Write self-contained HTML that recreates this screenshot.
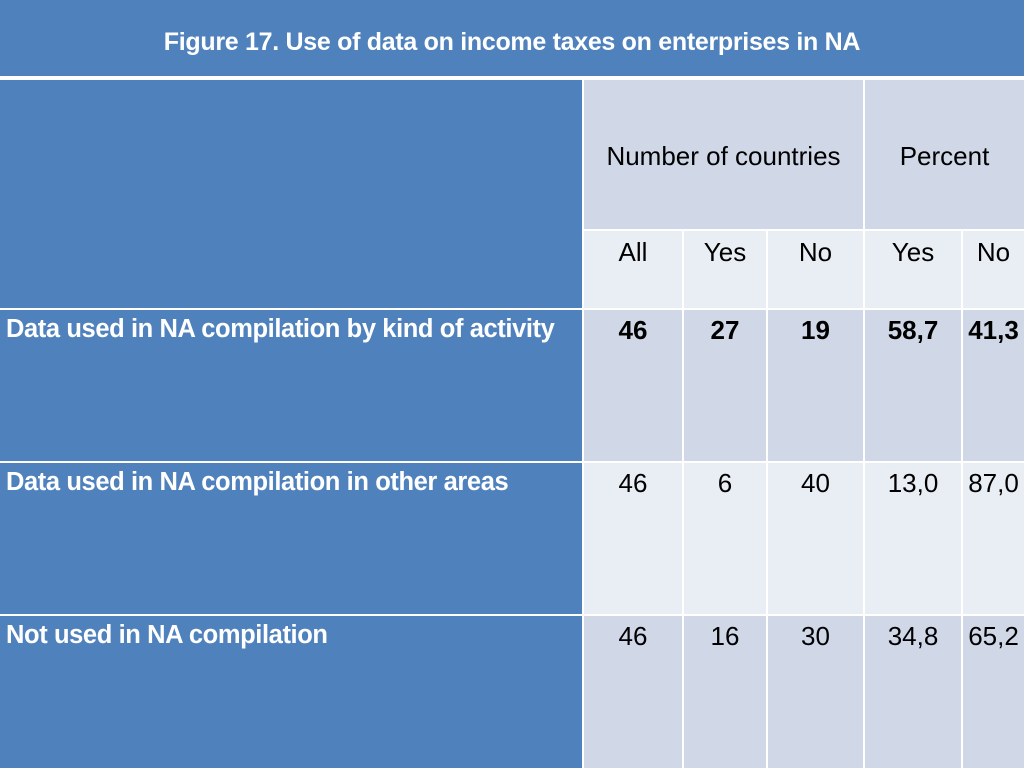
<!DOCTYPE html>
<html><head><meta charset="utf-8"><style>
body{margin:0;width:1024px;height:768px;background:#fff;position:relative;overflow:hidden;font-family:"Liberation Sans",sans-serif;}
.c{position:absolute;box-sizing:border-box;display:flex;justify-content:center;font-size:26px;color:#000;white-space:nowrap}
.b{font-weight:bold}
.lab{background:#4F81BD;color:#fff;justify-content:flex-start;padding-left:6px;font-weight:bold;font-size:25.5px;letter-spacing:-0.4px}
.d{background:#D0D8E8}.l{background:#E9EDF4}
</style></head><body>
<div class="c" style="left:0;top:0;width:1024px;height:76px;background:#4F81BD;color:#fff;font-weight:bold;font-size:25px;align-items:center;letter-spacing:-0.3px;padding-top:8px">Figure 17. Use of data on income taxes on enterprises in NA</div>
<div class="c lab" style="left:0;top:80px;width:582px;height:228px"></div>
<div class="c d" style="left:584px;top:80px;width:279px;height:149px;align-items:center;padding-top:4px">Number of countries</div>
<div class="c d" style="left:865px;top:80px;width:159px;height:149px;align-items:center;padding-top:4px">Percent</div>
<script>
const cols=[584,684,768,865,963,1024];
const subHeads=["All","Yes","No","Yes","No"];
const rowLabels=["Data used in NA compilation by kind of activity","Data used in NA compilation in other areas","Not used in NA compilation"];
const allVals=["46","46","46"];
const yesVals=["27","6","16"];
const noVals=["19","40","30"];
const yesPct=["58,7","13,0","34,8"];
const noPct=["41,3","87,0","65,2"];
const rowTops=[310,463,616];
const rowH=[151,151,152];
function cell(x,y,w,h,txt,cls,name){const e=document.createElement('div');e.className='c '+cls;e.style.cssText=`left:${x}px;top:${y}px;width:${w}px;height:${h}px;padding-top:${cls.includes('sub')?6:5}px`;e.textContent=txt;


document.body.appendChild(e);}
subHeads.forEach((s,i)=>cell(cols[i],231,cols[i+1]-cols[i]-(i<4?2:0),77,s,'l sub','subheader-'+i));
rowLabels.forEach((lab,r)=>{
 const cls=r%2===0?'d':'l';const bold=r===0?' b':'';
 cell(0,rowTops[r],582,rowH[r],lab,'lab','row-label-'+r);
 const vals=[allVals[r],yesVals[r],noVals[r],yesPct[r],noPct[r]];
 vals.forEach((v,i)=>cell(cols[i],rowTops[r],cols[i+1]-cols[i]-(i<4?2:0),rowH[r],v,cls+bold,'value-r'+r+'-c'+i));
});
</script>
</body></html>
